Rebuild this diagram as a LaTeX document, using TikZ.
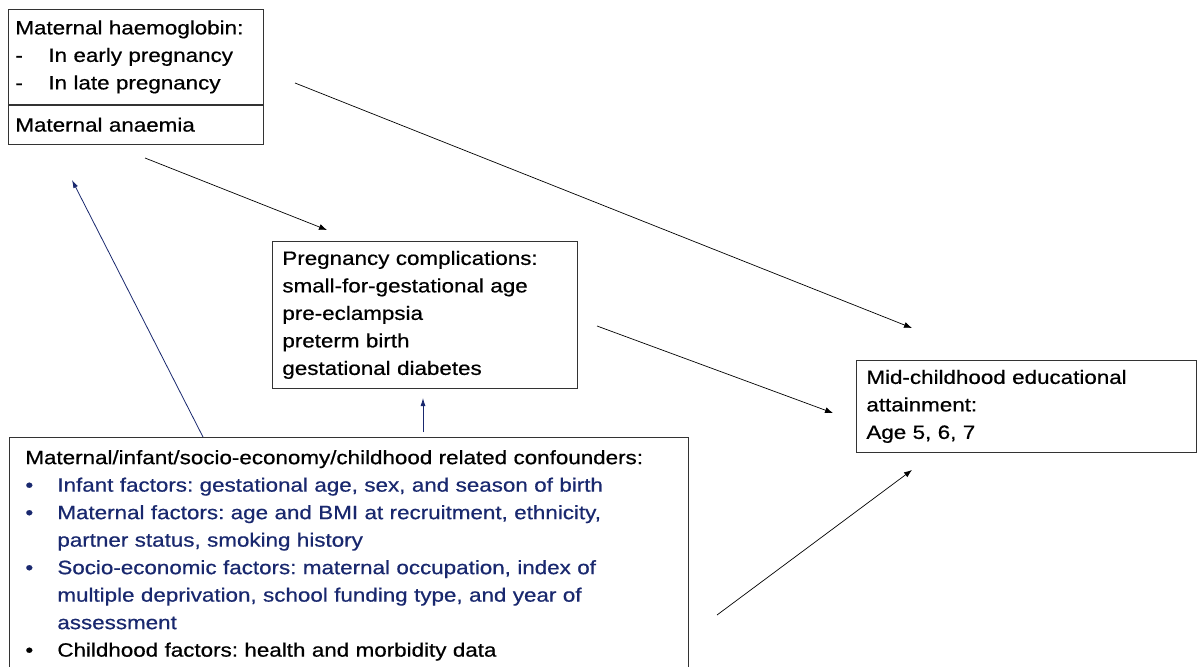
\documentclass[tikz,border=0pt]{standalone}
\usepackage{fontspec}
\setmainfont{Liberation Sans}[FakeStretch=1.16,FakeBold=0.6]
\usetikzlibrary{arrows.meta}
\definecolor{navy}{RGB}{25,40,110}
\frenchspacing
\begin{document}
\begin{tikzpicture}[x=1pt,y=-1pt,
  box/.style={draw=black!80, line width=0.8pt, rectangle, align=left, anchor=north west,
    inner ysep=0pt, font=\fontsize{19.3}{27.5}\selectfont},
  arr/.style={-{Latex[length=8pt,width=6pt]}, line width=0.7pt, draw=black},
  barr/.style={-{Latex[length=8pt,width=5pt]}, line width=0.8pt, draw=navy}]
\useasboundingbox (0,0) rectangle (1198,666);
\clip (0,0) rectangle (1198,666);

\node[box, minimum width=255pt, minimum height=95pt, text width=241pt, inner xsep=7pt] (hb) at (8,9)
  {Maternal haemoglobin:\\ \makebox[33pt][l]{-}In early pregnancy\\ \makebox[33pt][l]{-}In late pregnancy};
\node[box, minimum width=255pt, minimum height=39pt, text width=241pt, inner xsep=7pt] (an) at (hb.south west)
  {Maternal anaemia};

\node[box, minimum width=305pt, minimum height=147pt, text width=285pt, inner xsep=10pt] (pc) at (272,241)
  {Pregnancy complications:\\ small-for-gestational age\\ pre-eclampsia\\ preterm birth\\ gestational diabetes};

\node[box, minimum width=679pt, minimum height=236pt, text width=647pt, inner xsep=16pt] (cf) at (9,437)
  {Maternal/infant/socio-economy/childhood related confounders:\\
   \textcolor{navy}{\makebox[32pt][l]{\textbullet}Infant factors: gestational age, sex, and season of birth}\\
   \textcolor{navy}{\makebox[32pt][l]{\textbullet}Maternal factors: age and BMI at recruitment, ethnicity,}\\
   \textcolor{navy}{\hspace*{32pt}partner status, smoking history}\\
   \textcolor{navy}{\makebox[32pt][l]{\textbullet}Socio-economic factors: maternal occupation, index of}\\
   \textcolor{navy}{\hspace*{32pt}multiple deprivation, school funding type, and year of}\\
   \textcolor{navy}{\hspace*{32pt}assessment}\\
   \makebox[32pt][l]{\textbullet}Childhood factors: health and morbidity data};

\node[box, minimum width=340pt, minimum height=92pt, text width=320pt, inner xsep=10pt] (ea) at (856,360)
  {Mid-childhood educational\\ attainment:\\ Age 5, 6, 7};

\coordinate (a1s) at (295,83);  \coordinate (a1e) at (912,328);
\coordinate (a2s) at (145,158); \coordinate (a2e) at (327,230);
\coordinate (a3s) at (597,326); \coordinate (a3e) at (833,413);
\coordinate (a4s) at (717,615); \coordinate (a4e) at (912,470);
\coordinate (b1s) at (203,437); \coordinate (b1e) at (72,180);
\coordinate (b2s) at (423,432); \coordinate (b2e) at (423,398);

\draw[arr] (a1s) -- (a1e);
\draw[arr] (a2s) -- (a2e);
\draw[arr] (a3s) -- (a3e);
\draw[arr] (a4s) -- (a4e);
\draw[barr] (b1s) -- (b1e);
\draw[barr] (b2s) -- (b2e);
\end{tikzpicture}
\end{document}
